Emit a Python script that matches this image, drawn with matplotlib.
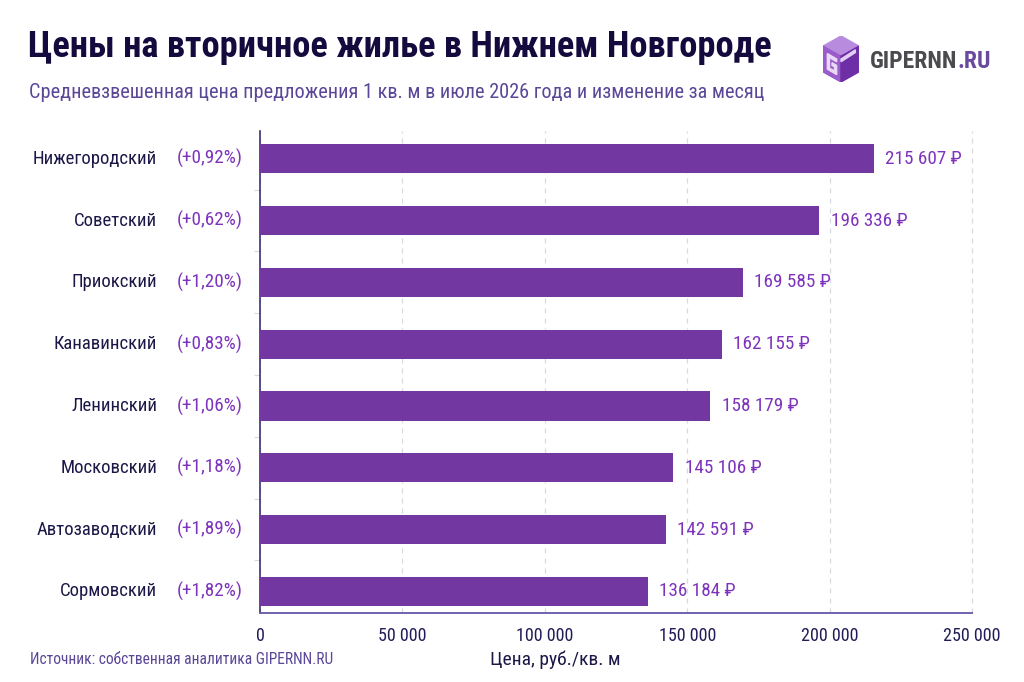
import matplotlib
matplotlib.use("Agg")
import matplotlib.pyplot as plt
from matplotlib.patches import Polygon
from matplotlib.text import Annotation

districts = ["Нижегородский", "Советский", "Приокский", "Канавинский",
             "Ленинский", "Московский", "Автозаводский", "Сормовский"]
changes = ["(+0,92%)", "(+0,62%)", "(+1,20%)", "(+0,83%)",
           "(+1,06%)", "(+1,18%)", "(+1,89%)", "(+1,82%)"]
prices = [215607, 196336, 169585, 162155, 158179, 145106, 142591, 136184]
xticks = [0, 50000, 100000, 150000, 200000, 250000]
xtick_labels = ["0", "50 000", "100 000", "150 000", "200 000", "250 000"]

FONT = ["Roboto Condensed", "DejaVu Sans"]
plt.rcParams['font.family'] = FONT

W, H = 1024, 682
fig = plt.figure(figsize=(W / 100, H / 100), dpi=100)
fig.patch.set_facecolor("white")

ax_l, ax_r, ax_t, ax_b = 260, 972, 131, 613
ax = fig.add_axes([ax_l / W, 1 - ax_b / H, (ax_r - ax_l) / W, (ax_b - ax_t) / H])

bar_color = "#7237A1"
label_color = "#7D33BC"
cat_color = "#1B1848"
tick_color = "#211C58"

pos = list(range(len(districts)))
ax.barh(pos, prices, height=0.47, color=bar_color, zorder=3)
ax.set_xlim(0, 250000)
ax.set_ylim(len(districts) - 1 + 0.35, -0.45)

for p, v in zip(pos, prices):
    s = f"{v:,}".replace(",", " ") + " ₽"
    ax.text(v + 4000, p, s, va="center", ha="left", fontsize=13.8,
            color=label_color, zorder=4)

ax.set_yticks(pos)
ax.set_yticklabels([])
ax.set_yticks([p + 0.5 for p in pos[:-1]], minor=True)
ax.tick_params(axis="y", which="major", length=0)
ax.tick_params(axis="y", which="minor", length=4, color="#d8d8e0", width=0.8)

for p, d, c in zip(pos, districts, changes):
    ax.annotate(d, xy=(0, p), xycoords=("axes fraction", "data"),
                xytext=(-103, 0), textcoords="offset pixels",
                ha="right", va="center", fontsize=13.5, color=cat_color)
    ax.annotate(c, xy=(0, p), xycoords=("axes fraction", "data"),
                xytext=(-17, 0), textcoords="offset pixels",
                ha="right", va="center", fontsize=13.8, color=label_color)

ax.set_xticks(xticks)
ax.set_xticklabels(xtick_labels, fontsize=13, color=tick_color)
ax.tick_params(axis="x", length=0, pad=10)
ax.grid(axis="x", color="#d9d9e2", linestyle=(0, (4, 4)), linewidth=0.9, zorder=0)
for gl in ax.get_xgridlines():
    gl.set_clip_on(False)

for s in ["top", "right"]:
    ax.spines[s].set_visible(False)
ax.spines["left"].set_color("#3a2f78")
ax.spines["left"].set_linewidth(1.2)
ax.spines["bottom"].set_color("#6e62ae")
ax.spines["bottom"].set_linewidth(1.4)
ax.set_facecolor("none")

# Titles
fig.text(28 / W, 1 - 47 / H, "Цены на вторичное жилье в Нижнем Новгороде",
         fontsize=26.3, fontweight="bold", color="#150A3D", va="center", ha="left")
fig.text(29 / W, 1 - 92 / H,
         "Средневзвешенная цена предложения 1 кв. м в июле 2026 года и изменение за месяц",
         fontsize=14.6, color="#5A4798", va="center", ha="left")
fig.text(30 / W, 1 - 660 / H, "Источник: собственная аналитика GIPERNN.RU",
         fontsize=11.2, color="#5A4798", va="center", ha="left")
fig.text(555 / W, 1 - 660 / H, "Цена, руб./кв. м",
         fontsize=14, color=cat_color, va="center", ha="center")

# Logo
lax = fig.add_axes([823 / W, 1 - 82 / H, 36 / W, 46 / H])
lax.set_xlim(0, 1)
lax.set_ylim(0, 1)
lax.axis("off")
top = [(0.0, 0.78), (0.5, 1.0), (1.0, 0.78), (0.5, 0.56)]
left = [(0.0, 0.78), (0.5, 0.56), (0.5, 0.0), (0.0, 0.22)]
right = [(0.5, 0.56), (1.0, 0.78), (1.0, 0.22), (0.5, 0.0)]
lax.add_patch(Polygon(top, closed=True, color="#B88BDE"))
lax.add_patch(Polygon(left, closed=True, color="#9A5BCB"))
lax.add_patch(Polygon(right, closed=True, color="#6D2EA6"))
gx = [(0.12, 0.62), (0.38, 0.50), (0.38, 0.44), (0.18, 0.53), (0.18, 0.30),
      (0.32, 0.24), (0.32, 0.33), (0.25, 0.36), (0.25, 0.42), (0.38, 0.36),
      (0.38, 0.16), (0.12, 0.28)]
lax.add_patch(Polygon(gx, closed=True, color="#E9D9F6"))
lax.add_patch(Polygon([(0.5, 0.50), (0.9, 0.70), (0.9, 0.64), (0.5, 0.44)],
                      closed=True, color="#E2CFF3"))

t1 = fig.text(870 / W, 1 - 61 / H, "GIPERNN", fontsize=17, fontweight="bold",
              color="#4A4A4F", va="center", ha="left")
fig.add_artist(Annotation(".RU", xy=(1, 0.5), xycoords=t1,
                          va="center", ha="left", fontsize=17, fontweight="bold",
                          color="#6B4A9E"))

fig.savefig("out.png", dpi=100)
